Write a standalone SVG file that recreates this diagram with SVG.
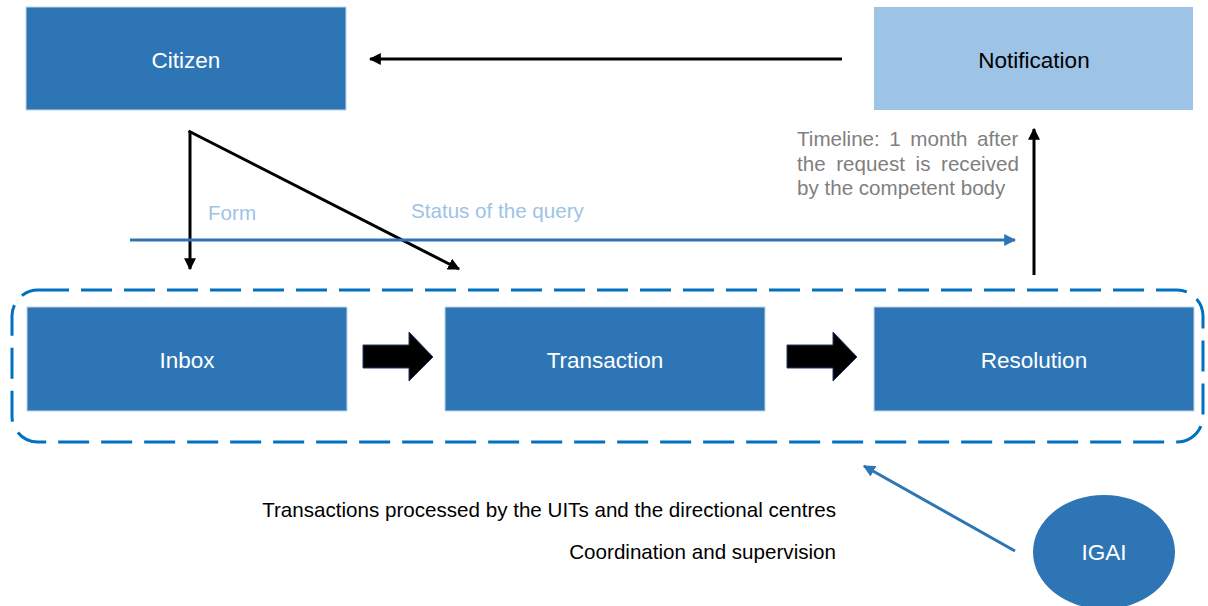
<svg xmlns="http://www.w3.org/2000/svg" width="1208" height="606" viewBox="0 0 1208 606">
<defs>
<style>
.box{fill:#2E75B6;stroke:#BDD7EE;stroke-width:1}
.lbl{font-family:"Liberation Sans",Arial,sans-serif;font-size:22.5px;fill:#FFFFFF;text-anchor:middle}
.txt{font-family:"Liberation Sans",Arial,sans-serif;font-size:20.6px}
.blk{fill:none;stroke:#000;stroke-width:3}
.blu{fill:none;stroke:#2E75B6;stroke-width:3}
.barrow{fill:#000;stroke:#203864;stroke-width:1}
</style>
<marker id="ah" viewBox="0 0 10 10" refX="9" refY="5" markerWidth="4" markerHeight="4" orient="auto" markerUnits="strokeWidth">
<path d="M0,0 L10,5 L0,10 z" fill="#000"/>
</marker>
<marker id="ahb" viewBox="0 0 10 10" refX="9" refY="5" markerWidth="4" markerHeight="4" orient="auto" markerUnits="strokeWidth">
<path d="M0,0 L10,5 L0,10 z" fill="#2E75B6"/>
</marker>
</defs>
<rect width="1208" height="606" fill="#FFFFFF"/>

<g id="group-frame">
<rect x="12" y="290" width="1191" height="152" rx="26" ry="26" fill="none" stroke="#0070C0" stroke-width="3" stroke-dasharray="31 12"/>
</g>

<g id="connectors">
<line class="blk" x1="842" y1="59" x2="370" y2="59" marker-end="url(#ah)"/>
<line class="blk" x1="188.5" y1="131" x2="459" y2="269" marker-end="url(#ah)"/>
<line class="blk" x1="190" y1="131" x2="190" y2="269" marker-end="url(#ah)"/>
<line class="blu" x1="130" y1="240" x2="1015" y2="240" marker-end="url(#ahb)"/>
<line class="blk" x1="1034" y1="275" x2="1034" y2="129" marker-end="url(#ah)"/>
<line class="blu" x1="1015" y1="551" x2="864" y2="466" marker-end="url(#ahb)"/>
<path class="barrow" d="M363,345 H409 V332 L433,357 L409,381 V368 H363 Z"/>
<path class="barrow" d="M787,345 H833 V332 L857,357 L833,381 V368 H787 Z"/>
</g>

<g id="node-citizen">
<rect class="box" x="26" y="7" width="320" height="103"/>
<text class="lbl" x="186" y="68">Citizen</text>
</g>
<g id="node-notification">
<rect x="874" y="7" width="319" height="103" fill="#9DC3E6"/>
<text class="lbl" x="1034" y="68" style="fill:#000">Notification</text>
</g>
<g id="node-inbox">
<rect class="box" x="27" y="307" width="320" height="104"/>
<text class="lbl" x="187" y="368">Inbox</text>
</g>
<g id="node-transaction">
<rect class="box" x="445" y="307" width="320" height="104"/>
<text class="lbl" x="605" y="368">Transaction</text>
</g>
<g id="node-resolution">
<rect class="box" x="874" y="307" width="320" height="104"/>
<text class="lbl" x="1034" y="368">Resolution</text>
</g>
<g id="node-igai">
<ellipse cx="1104" cy="552" rx="71" ry="57" fill="#2E75B6"/>
<text class="lbl" x="1104" y="560">IGAI</text>
</g>

<g id="labels">
<text class="txt" x="208" y="220" fill="#9DC3E6">Form</text>
<text class="txt" x="411" y="218" fill="#9DC3E6">Status of the query</text>
<text class="txt" fill="#7F7F7F">
<tspan x="797" y="146" word-spacing="3.8">Timeline: 1 month after</tspan>
<tspan x="797" y="170.5" word-spacing="4.9">the request is received</tspan>
<tspan x="797" y="195">by the competent body</tspan>
</text>
<text class="txt" x="836" y="517" fill="#000" text-anchor="end">Transactions processed by the UITs and the directional centres</text>
<text class="txt" x="836" y="559" fill="#000" text-anchor="end">Coordination and supervision</text>
</g>
</svg>
